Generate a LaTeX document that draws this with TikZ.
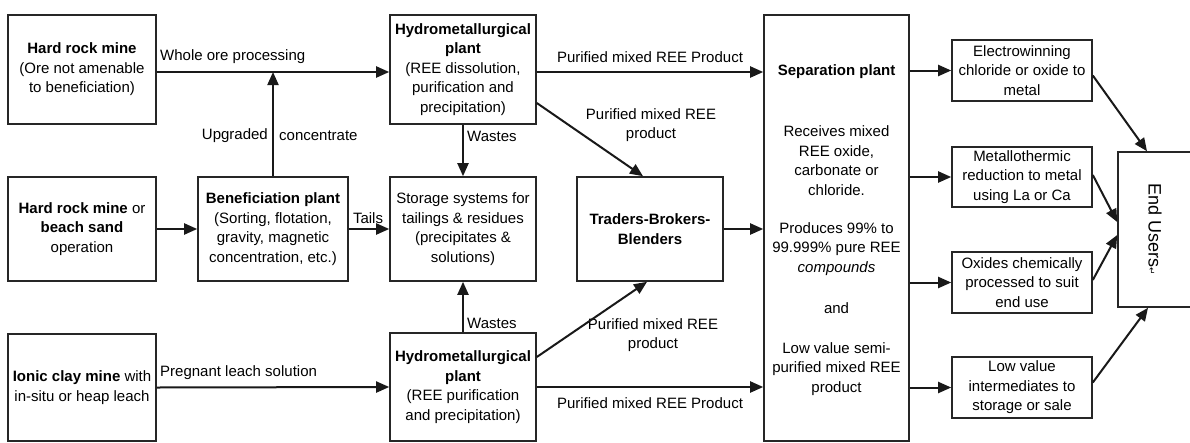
\documentclass[tikz,border=0pt]{standalone}
\usepackage{fontspec}
\setmainfont{Liberation Sans}
\newfontfamily\symfont{DejaVu Sans}
\usetikzlibrary{arrows.meta}
\begin{document}
\begin{tikzpicture}[x=1pt,y=-1pt,
  font=\fontsize{15}{19.6}\selectfont,
  box/.style={draw=black!85,line width=1.6pt,align=center,inner sep=0pt},
  arr/.style={draw=black!90,line width=2pt,-{Triangle[length=13pt,width=11pt]}},
  lab/.style={inner sep=0pt,align=center}]
\clip (0,0) rectangle (1190,442);
\fill[white] (0,0) rectangle (1190,442);
\coordinate (row1) at (0,72);
% boxes
\node[box,minimum width=148pt,minimum height=109pt] (hr1) at (82,69.5) {\textbf{Hard rock mine}\\(Ore not amenable\\to beneficiation)};
\node[box,minimum width=146pt,minimum height=109pt] (hy1) at (463,69.5) {\textbf{Hydrometallurgical}\\\textbf{plant}\\(REE dissolution,\\purification and\\precipitation)};
\node[box,minimum width=145pt,minimum height=426pt] (sep) at (836.5,228) {};
\node[box,minimum width=140pt,minimum height=61pt] (ew) at (1022,70.5) {Electrowinning\\chloride or oxide to\\metal};
\node[box,minimum width=140pt,minimum height=60pt] (mt) at (1022,177) {Metallothermic\\reduction to metal\\using La or Ca};
\node[box,minimum width=140pt,minimum height=61pt] (ox) at (1022,282.5) {Oxides chemically\\processed to suit\\end use};
\node[box,minimum width=140pt,minimum height=61pt] (lv) at (1022,387.5) {Low value\\intermediates to\\storage or sale};
\node[box,minimum width=77pt,minimum height=155pt] (eu) at (1156.5,229.5) {};
\node[box,minimum width=148pt,minimum height=104pt] (hr2) at (82,229) {\textbf{Hard rock mine} or\\\textbf{beach sand}\\operation};
\node[box,minimum width=150pt,minimum height=104pt] (ben) at (273,229) {\textbf{Beneficiation plant}\\(Sorting, flotation,\\gravity, magnetic\\concentration, etc.)};
\node[box,minimum width=146pt,minimum height=104pt] (sto) at (463,229) {Storage systems for\\tailings \& residues\\(precipitates \&\\solutions)};
\node[box,minimum width=146pt,minimum height=104pt] (tr) at (650,229) {\textbf{Traders-Brokers-}\\\textbf{Blenders}};
\node[box,minimum width=148pt,minimum height=107pt] (ic) at (82,387.5) {\textbf{Ionic clay mine} with\\in-situ or heap leach};
\node[box,minimum width=146pt,minimum height=108pt] (hy2) at (463,387) {\textbf{Hydrometallurgical}\\\textbf{plant}\\(REE purification\\and precipitation)};
% separation plant text
\node[lab] (septitle) at (836.5,72) {\textbf{Separation plant}};
\node[lab] (sepA) at (836.5,160.5) {Receives mixed\\REE oxide,\\carbonate or\\chloride.};
\node[lab] (sepB) at (836.5,249) {Produces 99\% to\\99.999\% pure REE\\\textit{compounds}};
\node[lab] (sepC) at (836.5,308) {and};
\node[lab] (sepD) at (836.5,369) {Low value semi-\\purified mixed REE\\product};
\node[lab,rotate=-90,font=\fontsize{18}{20}\selectfont] (eutext) at (1155,229) {End Users{\symfont\fontsize{9}{10}\selectfont ↵}};
% labels
\node[lab,anchor=west] (lwhole) at (160,57) {Whole ore processing};
\node[lab,anchor=east] (lupg) at (268,136) {Upgraded};
\node[lab,anchor=west] (lconc) at (279,136) {concentrate};
\node[lab] (lp1) at (650,57) {Purified mixed REE Product};
\node[lab,anchor=west] (lw1) at (467,136) {Wastes};
\node[lab] (lp2) at (651,125) {Purified mixed REE\\product};
\node[lab] (ltails) at (368,218) {Tails};
\node[lab,anchor=west] (lw2) at (467,323) {Wastes};
\node[lab] (lp3) at (653,335) {Purified mixed REE\\product};
\node[lab,anchor=west] (lpreg) at (160,373) {Pregnant leach solution};
\node[lab] (lp4) at (650,403) {Purified mixed REE Product};
% connectors
\draw[arr] (hr1.east |- row1) -- (hy1.west |- row1);
\draw[arr] (ben.north) -- (ben.north |- row1);
\draw[arr] (hy1.east |- row1) -- (sep.west |- row1);
\draw[arr] ([yshift=-33.5pt]hy1.east) -- ([xshift=-7pt]tr.north);
\draw[arr] (hy1.south) -- (sto.north);
\draw[arr] (hr2.east) -- (ben.west);
\draw[arr] (ben.east) -- (sto.west);
\draw[arr] (tr.east) -- (sep.west |- tr.east);
\draw[arr] (hy2.north) -- (sto.south);
\draw[arr] (ic.east) -- (hy2.west);
\draw[arr] ([yshift=30pt]hy2.east) -- ([xshift=-3pt]tr.south);
\draw[arr] (hy2.east) -- (sep.west |- hy2.east);
\draw[arr] (sep.east |- ew.west) -- (ew.west);
\draw[arr] (sep.east |- mt.west) -- (mt.west);
\draw[arr] (sep.east |- ox.west) -- (ox.west);
\draw[arr] (sep.east |- lv.west) -- (lv.west);
\draw[arr] ([yshift=-5pt]ew.east) -- ([xshift=-9.5pt]eu.north);
\draw[arr] ([yshift=2pt]mt.east) -- ([yshift=7.5pt]eu.west);
\draw[arr] ([yshift=2.5pt]ox.east) -- ([yshift=-5.5pt]eu.west);
\draw[arr] ([yshift=5pt]lv.east) -- ([xshift=-8.5pt]eu.south);
\end{tikzpicture}
\end{document}
